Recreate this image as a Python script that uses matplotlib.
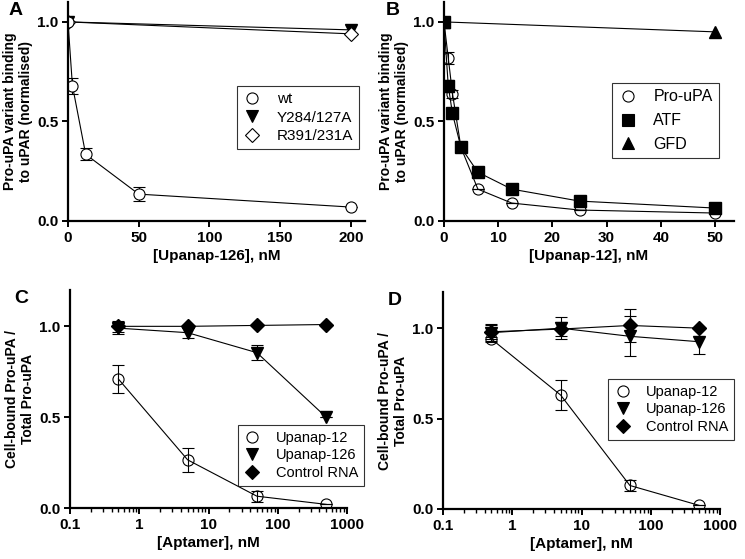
import numpy as np
import matplotlib.pyplot as plt
from matplotlib.lines import Line2D
from matplotlib.ticker import LogLocator, NullFormatter, FixedLocator

plt.rcParams['font.family'] = ['Liberation Sans', 'DejaVu Sans']

# panel A
a_x = [0, 3.125, 12.5, 50, 200]
a_wt = [1.0, 0.68, 0.335, 0.135, 0.07]
a_wt_err = [0.0, 0.04, 0.03, 0.035, 0.0]
a_mut_x = [0, 200]
a_y284 = [1.0, 0.96]
a_r391 = [1.0, 0.94]

# panel B
b_x = [0, 0.78, 1.56, 3.125, 6.25, 12.5, 25, 50]
b_pro = [1.0, 0.82, 0.64, 0.37, 0.16, 0.09, 0.055, 0.04]
b_pro_err = [0.0, 0.03, 0.02, 0.0, 0.0, 0.0, 0.0, 0.0]
b_atf = [1.0, 0.68, 0.54, 0.37, 0.245, 0.16, 0.10, 0.065]
b_atf_err = [0.0, 0.03, 0.0, 0.0, 0.0, 0.0, 0.0, 0.0]
b_gfd_x = [0, 50]
b_gfd = [1.0, 0.95]

# panels C and D
cd_x = [0.5, 5, 50, 500]
c_u12 = [0.71, 0.265, 0.065, 0.02]
c_u12_err = [0.075, 0.065, 0.03, 0.0]
c_u126 = [0.99, 0.965, 0.855, 0.5]
c_u126_err = [0.03, 0.03, 0.04, 0.0]
c_ctrl = [1.0, 1.0, 1.005, 1.01]
c_ctrl_err = [0.03, 0.01, 0.0, 0.0]

d_u12 = [0.94, 0.63, 0.13, 0.02]
d_u12_err = [0.01, 0.085, 0.03, 0.0]
d_u126 = [0.975, 1.0, 0.955, 0.925]
d_u126_err = [0.05, 0.06, 0.11, 0.07]
d_ctrl = [0.98, 0.995, 1.015, 1.0]
d_ctrl_err = [0.04, 0.04, 0.09, 0.0]

W, H = 745, 559
fig = plt.figure(figsize=(7.45, 5.59), dpi=100)


def make_ax(x0, x1, ybot, ytop):
    return fig.add_axes([x0 / W, 1 - ybot / H, (x1 - x0) / W, (ybot - ytop) / H])


def style(ax, letter, xlabel, ylabel):
    for s in ['top', 'right']:
        ax.spines[s].set_visible(False)
    for s in ['left', 'bottom']:
        ax.spines[s].set_linewidth(1.6)
    ax.tick_params(which='major', direction='out', length=4.5, width=1.4,
                   labelsize=11, pad=2.5)
    ax.tick_params(which='minor', direction='out', length=3, width=1.0)
    for lab in ax.get_xticklabels() + ax.get_yticklabels():
        lab.set_fontweight('bold')
    ax.set_xlabel(xlabel, fontsize=11, fontweight='bold', labelpad=3)
    ax.set_ylabel(ylabel, fontsize=10, fontweight='bold', labelpad=3)
    ax.set_yticks([0.0, 0.5, 1.0])
    ax.set_yticklabels(['0.0', '0.5', '1.0'], fontweight='bold')
    ax.text(-0.2, 1.0, letter, transform=ax.transAxes, fontsize=14,
            fontweight='bold', va='top', ha='left')


def add_legend(ax, specs, anchor, spacing, fs):
    handles = [Line2D([], [], ls='none', color='black', marker=m, ms=s, mfc=fc,
                      mec='black', mew=0.8, label=l) for l, m, s, fc in specs]
    leg = ax.legend(handles=handles, loc='upper left', bbox_to_anchor=anchor,
                    fontsize=fs, frameon=True, fancybox=False, edgecolor='black',
                    handletextpad=1.0, handlelength=1.2, borderpad=0.4,
                    labelspacing=spacing, borderaxespad=0)
    leg.get_frame().set_linewidth(0.8)


lw = 0.8
ms = 8
eb = dict(capsize=4, elinewidth=0.8, capthick=0.8)

# A
axA = make_ax(68, 365, 221, 2)
axA.errorbar(a_x, a_wt, yerr=a_wt_err, color='black', lw=lw, marker='o', ms=ms,
             mfc='white', mec='black', mew=0.8, **eb)
axA.plot(a_mut_x, a_y284, color='black', lw=lw, marker='v', ms=ms)
axA.plot(a_mut_x, a_r391, color='black', lw=lw, marker='D', ms=7, mfc='white', mew=0.8)
axA.set_xlim(0, 210)
axA.set_ylim(0, 1.1)
axA.set_xticks([0, 50, 100, 150, 200])
style(axA, 'A', '[Upanap-126], nM', 'Pro-uPA variant binding\nto uPAR (normalised)')
add_legend(axA, [('wt', 'o', 8, 'none'), ('Y284/127A', 'v', 8, 'black'),
                 ('R391/231A', 'D', 7, 'none')], (0.569, 0.616), 0.3, 11)

# B
axB = make_ax(444, 734, 221, 2)
axB.errorbar(b_x, b_pro, yerr=b_pro_err, color='black', lw=lw, marker='o', ms=ms,
             mfc='none', mec='black', mew=0.8, **eb)
axB.errorbar(b_x, b_atf, yerr=b_atf_err, color='black', lw=lw, marker='s', ms=8, **eb)
axB.plot(b_gfd_x, b_gfd, color='black', lw=lw, marker='^', ms=ms)
axB.set_xlim(0, 53.5)
axB.set_ylim(0, 1.1)
axB.set_xticks([0, 10, 20, 30, 40, 50])
style(axB, 'B', '[Upanap-12], nM', 'Pro-uPA variant binding\nto uPAR (normalised)')
add_legend(axB, [('Pro-uPA', 'o', 8, 'none'), ('ATF', 's', 8, 'black'),
                 ('GFD', '^', 8, 'black')], (0.579, 0.63), 0.55, 11.5)


def log_panel(ax, u12, u12e, u126, u126e, ctrl, ctrle, letter, anchor):
    ax.errorbar(cd_x, u12, yerr=u12e, color='black', lw=lw, marker='o', ms=ms,
                mfc='none', mec='black', mew=0.8, **eb)
    ax.errorbar(cd_x, u126, yerr=u126e, color='black', lw=lw, marker='v', ms=ms, **eb)
    ax.errorbar(cd_x, ctrl, yerr=ctrle, color='black', lw=lw, marker='D', ms=7, **eb)
    ax.set_xscale('log')
    ax.set_xlim(0.1, 1000)
    ax.set_ylim(0, 1.2)
    ax.xaxis.set_major_locator(FixedLocator([0.1, 1, 10, 100, 1000]))
    ax.xaxis.set_minor_locator(LogLocator(base=10, subs=np.arange(2, 10), numticks=20))
    ax.xaxis.set_minor_formatter(NullFormatter())
    ax.set_xticklabels(['0.1', '1', '10', '100', '1000'])
    style(ax, letter, '[Aptamer], nM', 'Cell-bound Pro-uPA /\nTotal Pro-uPA')
    add_legend(ax, [('Upanap-12', 'o', 8, 'none'), ('Upanap-126', 'v', 8, 'black'),
                    ('Control RNA', 'D', 7, 'black')], anchor, 0.25, 10.5)


axC = make_ax(70, 347, 508, 290)
log_panel(axC, c_u12, c_u12_err, c_u126, c_u126_err, c_ctrl, c_ctrl_err, 'C',
          (0.606, 0.381))
axD = make_ax(443, 720, 509, 292)
log_panel(axD, d_u12, d_u12_err, d_u126, d_u126_err, d_ctrl, d_ctrl_err, 'D',
          (0.596, 0.599))

fig.savefig('out.png', dpi=100)
